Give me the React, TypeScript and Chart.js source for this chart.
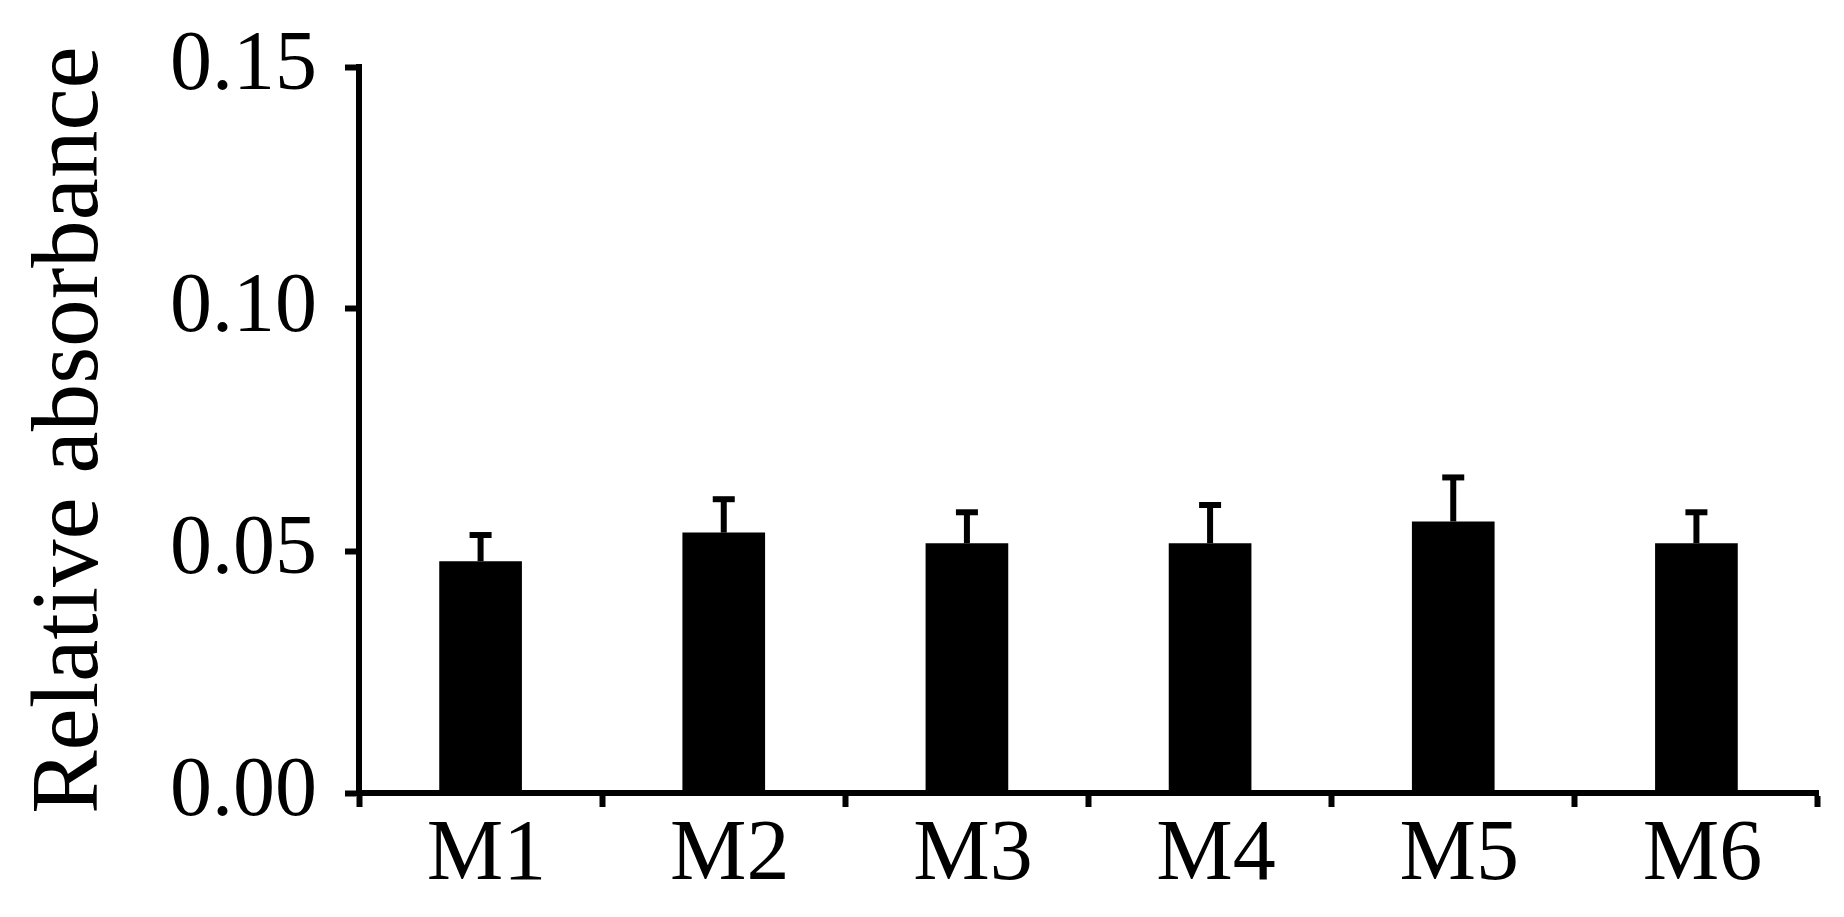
import React, { useEffect, useRef } from "react";
import { Chart, registerables } from "chart.js";

Chart.register(...registerables);

const categories = ["M1", "M2", "M3", "M4", "M5", "M6"];
const meanValues = [0.0479, 0.0538, 0.0516, 0.0516, 0.0561, 0.0516];
const errorValues = [0.0054, 0.0069, 0.0064, 0.0079, 0.0091, 0.0064];
const yTicks = [0, 0.05, 0.1, 0.15];

const FONT = '"Liberation Serif", "Times New Roman", serif';

const errorBarPlugin = {
  id: "errorBars",
  afterDatasetsDraw(chart: any) {
    const meta = chart.getDatasetMeta(0);
    const yScale = chart.scales.y;
    const ctx = chart.ctx;
    ctx.save();
    ctx.strokeStyle = "#000";
    ctx.lineWidth = 6;
    ctx.lineCap = "butt";
    meta.data.forEach((bar: any, i: number) => {
      const x = bar.x;
      const yBase = yScale.getPixelForValue(meanValues[i]);
      const yTop = yScale.getPixelForValue(meanValues[i] + errorValues[i]);
      ctx.beginPath();
      ctx.moveTo(x, yBase);
      ctx.lineTo(x, yTop);
      ctx.stroke();
      ctx.beginPath();
      ctx.moveTo(x - 11, yTop);
      ctx.lineTo(x + 11, yTop);
      ctx.stroke();
    });
    ctx.restore();
  },
};

export default function App() {
  const canvasRef = useRef<HTMLCanvasElement | null>(null);

  useEffect(() => {
    const canvas = canvasRef.current;
    if (!canvas) return;
    const chart = new Chart(canvas, {
      type: "bar",
      data: {
        labels: categories,
        datasets: [
          {
            data: meanValues,
            backgroundColor: "#000",
            borderWidth: 0,
            categoryPercentage: 1,
            barPercentage: 0.34,
          },
        ],
      },
      options: {
        responsive: false,
        animation: false,
        layout: { padding: { left: 0, top: 67, right: 26, bottom: 0 } },
        plugins: {
          legend: { display: false },
          tooltip: { enabled: false },
        },
        scales: {
          x: {
            offset: true,
            grid: {
              offset: true,
              drawOnChartArea: false,
              drawTicks: true,
              tickLength: 14,
              tickWidth: 6,
              color: "#000",
            },
            border: { display: true, width: 6, color: "#000" },
            ticks: {
              color: "#000",
              padding: 2,
              labelOffset: 6,
              font: { family: FONT, size: 86, lineHeight: 1.1 },
            },
            afterFit: (scale: any) => {
              scale.height = 124;
            },
          },
          y: {
            min: 0,
            max: 0.15,
            afterBuildTicks: (scale: any) => {
              scale.ticks = yTicks.map((v) => ({ value: v }));
            },
            grid: {
              drawOnChartArea: false,
              drawTicks: true,
              tickLength: 14,
              tickWidth: 6,
              color: "#000",
            },
            border: { display: true, width: 6, color: "#000" },
            ticks: {
              color: "#000",
              padding: 28,
              font: { family: FONT, size: 84, lineHeight: 0.8 },
              callback: (v: any) => Number(v).toFixed(2),
            },
            title: {
              display: true,
              text: "Relative absorbance",
              color: "#000",
              padding: { top: 15, bottom: 0 },
              font: { family: FONT, size: 95, weight: "normal" },
            },
            afterFit: (scale: any) => {
              scale.width = 359;
            },
          },
        },
      },
      plugins: [errorBarPlugin],
    });
    return () => chart.destroy();
  }, []);

  return (
    <div style={{ position: "absolute", left: 0, top: 0, width: 1844, height: 917, background: "#fff" }}>
      <canvas ref={canvasRef} width={1844} height={917} style={{ display: "block" }} />
    </div>
  );
}
